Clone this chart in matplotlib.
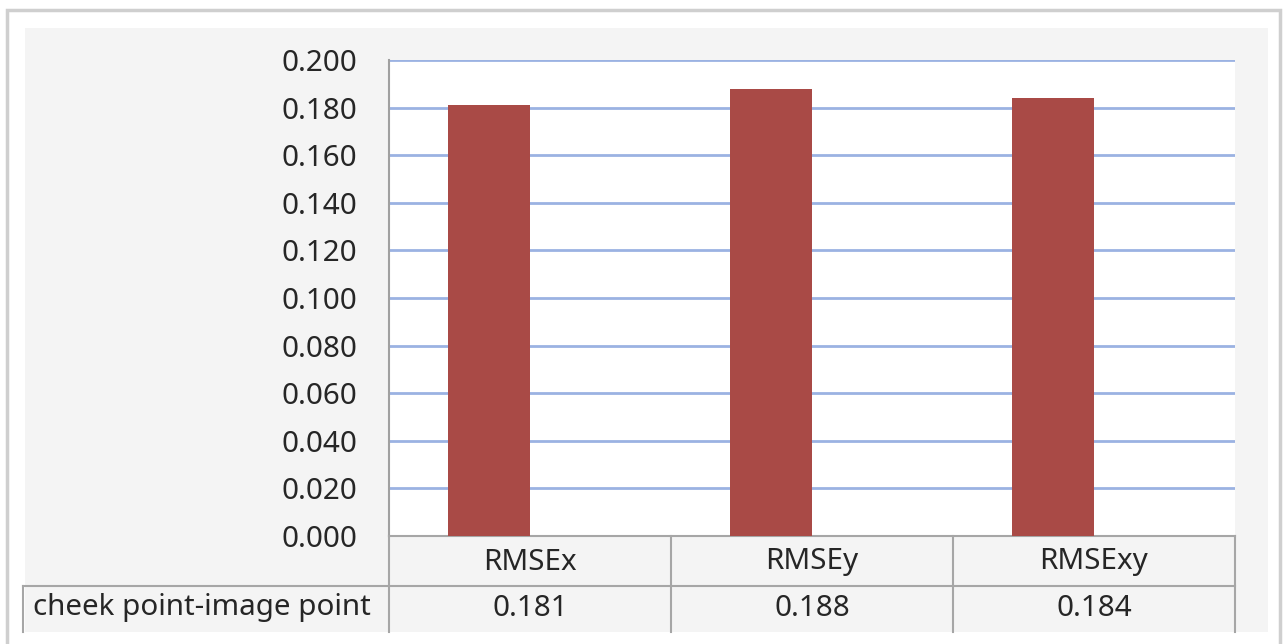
import numpy as np
import matplotlib.pyplot as plt
from matplotlib.patches import Rectangle
from matplotlib.lines import Line2D

categories = ['RMSEx', 'RMSEy', 'RMSExy']
series_name = 'cheek point-image point'
values = [0.181, 0.188, 0.184]
yticks = [0.0, 0.02, 0.04, 0.06, 0.08, 0.10, 0.12, 0.14, 0.16, 0.18, 0.20]

W, H = 1286, 644
bar_color = '#a94a46'
grid_color = '#9bb2e2'
table_color = '#a6a6a6'
font = 'Noto Sans'
fsize = 21.3


def fx(px):
    return px / W


def fy(py):
    return 1 - py / H


fig = plt.figure(figsize=(W / 100, H / 100), dpi=100)
fig.patch.set_facecolor('white')

# outer chart frame and the grey chart area (kept behind the axes)
fig.patches.append(Rectangle((fx(7), fy(660)), fx(1280) - fx(7), fy(10) - fy(660),
                             transform=fig.transFigure, facecolor='white',
                             edgecolor='#cfcfcf', lw=2.5, zorder=-5))
fig.patches.append(Rectangle((fx(25), fy(632)), fx(1268) - fx(25), fy(28) - fy(632),
                             transform=fig.transFigure, facecolor='#f4f4f4',
                             edgecolor='none', zorder=-4))

x0, x1, y0, y1 = 389, 1235, 536, 60
ax = fig.add_axes([fx(x0), fy(y0), fx(x1) - fx(x0), fy(y1) - fy(y0)])
ax.set_facecolor('white')

# bars sit left of the category centre (slot of an empty second series)
x = np.arange(len(categories))
ax.bar(x - 0.145, values, width=0.29, color=bar_color, zorder=3)
ax.set_xlim(-0.5, len(categories) - 0.5)
ax.set_ylim(0, 0.2)
ax.set_yticks(yticks)
ax.set_yticklabels([f'{t:.3f}' for t in yticks], fontsize=fsize, family=font,
                   color='#262626')
ax.tick_params(axis='y', length=0, pad=23)
ax.set_xticks([])
ax.yaxis.grid(True, color=grid_color, lw=2)
ax.set_axisbelow(True)
for s in ['top', 'right']:
    ax.spines[s].set_visible(False)
ax.spines['left'].set_color('#a0a0a0')
ax.spines['left'].set_linewidth(1.5)
ax.spines['bottom'].set_color(table_color)
ax.spines['bottom'].set_linewidth(1.5)

# data table under the plot
row1, row2, row_end = 536, 586, 632
col_w = (x1 - x0) / len(categories)
cols = [x0 + i * col_w for i in range(len(categories) + 1)]
lines = []
for c in cols:
    lines.append(((c, c), (row1, row_end)))
lines.append(((23, x1), (row2, row2)))
lines.append(((23, 23), (row2, row_end)))
for (xs, ys) in lines:
    fig.add_artist(Line2D([fx(v) for v in xs], [fy(v) for v in ys],
                          transform=fig.transFigure, color=table_color, lw=1.5))

for i, (cat, val) in enumerate(zip(categories, values)):
    cx = (cols[i] + cols[i + 1]) / 2
    fig.text(fx(cx), fy(562), cat, ha='center', va='center',
             fontsize=fsize, family=font, color='#262626')
    fig.text(fx(cx), fy(608), f'{val:.3f}', ha='center',
             va='center', fontsize=fsize, family=font, color='#262626')
fig.text(fx(33), fy(608), series_name, ha='left', va='center',
         fontsize=fsize, family=font, color='#262626')

fig.savefig('out.png', dpi=100)
